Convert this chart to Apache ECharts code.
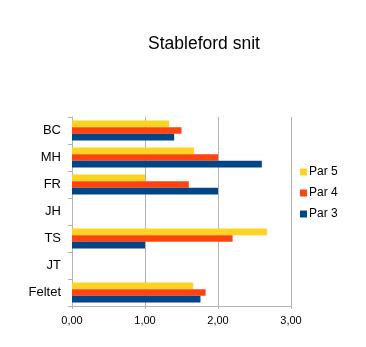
<!DOCTYPE html>
<html><head><meta charset="utf-8">
<script src="https://cdn.jsdelivr.net/npm/echarts@6/dist/echarts.min.js"></script>
<style>html,body{margin:0;padding:0;background:#fff}#c{width:366px;height:347px}</style>
</head><body><div id="c"></div>
<script>
const categories = ['BC','MH','FR','JH','TS','JT','Feltet'];
const par5 = [1.33, 1.67, 1.00, null, 2.67, null, 1.66];
const par4 = [1.50, 2.00, 1.60, null, 2.20, null, 1.83];
const par3 = [1.40, 2.60, 2.00, null, 1.00, null, 1.76];
const xTicks = [0, 1, 2, 3];

const chart = echarts.init(document.getElementById('c'));
const font = 'Liberation Sans, Arial, sans-serif';
chart.setOption({
  animation: false,
  title: {text: 'Stableford snit', left: 199, top: 30, textAlign: 'center',
    textStyle: {fontFamily: font, fontSize: 17.5, fontWeight: 'normal', color: '#000'}},
  legend: {orient: 'vertical', left: 300, top: 166, padding: 0, itemWidth: 7, itemHeight: 7, itemGap: 9,
    icon: 'rect', textStyle: {fontFamily: font, fontSize: 12, color: '#000', padding: [0,0,0,-3]},
    data: ['Par 5','Par 4','Par 3']},
  grid: {left: 72, top: 117, width: 219, height: 189, containLabel: false},
  xAxis: {type: 'value', min: xTicks[0], max: xTicks[xTicks.length-1], interval: 1,
    axisLine: {show: true, lineStyle: {color: '#b3b3b3'}},
    axisTick: {show: true, length: 3, lineStyle: {color: '#b3b3b3'}},
    splitLine: {show: true, lineStyle: {color: '#b3b3b3'}},
    axisLabel: {fontFamily: font, fontSize: 11, color: '#000', margin: 9,
      formatter: v => v.toFixed(2).replace('.', ',')}},
  yAxis: {type: 'category', data: categories, inverse: true,
    axisLine: {show: true, lineStyle: {color: '#b3b3b3'}},
    axisTick: {show: true, length: 4, lineStyle: {color: '#b3b3b3'}},
    axisLabel: {fontFamily: font, fontSize: 13, color: '#000', margin: 11}},
  series: [
    {name: 'Par 5', type: 'bar', data: par5, itemStyle: {color: '#FFD320'}, barGap: '0%', barCategoryGap: '26%'},
    {name: 'Par 4', type: 'bar', data: par4, itemStyle: {color: '#FF420E'}, barGap: '0%', barCategoryGap: '26%'},
    {name: 'Par 3', type: 'bar', data: par3, itemStyle: {color: '#004586'}, barGap: '0%', barCategoryGap: '26%'}
  ]
});
</script></body></html>
